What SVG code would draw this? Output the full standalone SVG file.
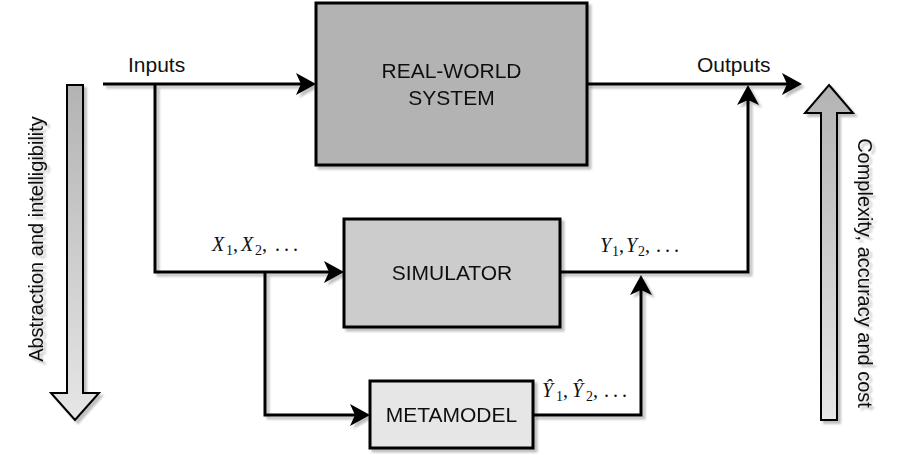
<svg xmlns="http://www.w3.org/2000/svg" width="897" height="455" viewBox="0 0 897 455">
  <defs>
    <!-- soft drop shadow used by boxes, wires and the side arrows -->
    <filter id="shadow" x="-10%" y="-10%" width="130%" height="130%">
      <feGaussianBlur in="SourceAlpha" stdDeviation="0.8" result="blur"/>
      <feOffset in="blur" dx="3" dy="3" result="off"/>
      <feComponentTransfer in="off" result="soft">
        <feFuncA type="linear" slope="0.25"/>
      </feComponentTransfer>
      <feMerge>
        <feMergeNode in="soft"/>
        <feMergeNode in="SourceGraphic"/>
      </feMerge>
    </filter>
    <linearGradient id="fade" x1="0" y1="0" x2="0" y2="1">
      <stop offset="0" stop-color="#b3b3b3"/>
      <stop offset="1" stop-color="#e6e6e6"/>
    </linearGradient>
    <!-- notched arrowhead; reference point sits in the notch, tip 15px ahead -->
    <marker id="head" markerUnits="userSpaceOnUse" viewBox="0 0 20 22" refX="5" refY="11" markerWidth="20" markerHeight="22" orient="auto">
      <path d="M20,11 L0,0 L5,11 L0,22 Z" fill="#000"/>
    </marker>
    <style>
      .box { stroke: #000; stroke-width: 3; }
      .wire { fill: none; stroke: #000; stroke-width: 3; stroke-linejoin: miter; }
      .arrowed { marker-end: url(#head); }
      .big { fill: url(#fade); stroke: #000; stroke-width: 2; stroke-linejoin: miter; }
      .lbl { font-family: "Liberation Sans", Arial, Helvetica, sans-serif; font-size: 21px; fill: #111; }
      .side { font-family: "Liberation Sans", Arial, Helvetica, sans-serif; font-size: 20px; fill: #111; }
      .math { font-family: "Liberation Serif", "DejaVu Serif", serif; font-size: 20px; fill: #111; }
      .mi { font-style: italic; }
      .sub { font-size: 14px; }
    </style>
  </defs>

  <!-- side arrows -->
  <g id="abstraction-arrow" filter="url(#shadow)">
    <path class="big" d="M67,85 H83 V393 H99 L75,420 L51,393 H67 Z"/>
    <text class="side" text-anchor="middle" transform="translate(43,239) rotate(-90)">Abstraction and intelligibility</text>
  </g>
  <g id="complexity-arrow" filter="url(#shadow)">
    <path class="big" d="M829,85 L853,113 H837 V420 H821 V113 H805 Z"/>
    <text class="side" text-anchor="middle" transform="translate(858,273) rotate(90)">Complexity, accuracy and cost</text>
  </g>

  <!-- connectors -->
  <g id="connectors" filter="url(#shadow)">
    <path class="wire arrowed" d="M103,84 H301"/>
    <path class="wire arrowed" d="M155,84 V272 H329"/>
    <path class="wire arrowed" d="M265,272 V415 H355"/>
    <path class="wire arrowed" d="M533,415 H641 V290"/>
    <path class="wire arrowed" d="M560,272 H748 V100"/>
    <path class="wire arrowed" d="M587,84 H787"/>
  </g>

  <!-- nodes -->
  <g id="real-world-system" filter="url(#shadow)">
    <rect class="box" x="316" y="3" width="271" height="162" fill="#b3b3b3"/>
    <text class="lbl" x="451.5" y="78" text-anchor="middle">REAL-WORLD</text>
    <text class="lbl" x="451.5" y="105" text-anchor="middle">SYSTEM</text>
  </g>
  <g id="simulator" filter="url(#shadow)">
    <rect class="box" x="344" y="219" width="216" height="108" fill="#cccccc"/>
    <text class="lbl" x="452" y="280" text-anchor="middle">SIMULATOR</text>
  </g>
  <g id="metamodel" filter="url(#shadow)">
    <rect class="box" x="370" y="381" width="163" height="67" fill="#e6e6e6"/>
    <text class="lbl" x="451.5" y="422" text-anchor="middle">METAMODEL</text>
  </g>

  <!-- labels -->
  <g id="labels">
    <text class="lbl" x="128" y="72">Inputs</text>
    <text class="lbl" x="697" y="72">Outputs</text>
    <text class="math" y="251"><tspan class="mi" x="212">X</tspan><tspan class="sub" x="226" y="255">1</tspan><tspan x="233" y="251">,</tspan><tspan class="mi" x="241">X</tspan><tspan class="sub" x="255" y="255">2</tspan><tspan x="262" y="251">,</tspan><tspan x="275">.</tspan><tspan x="284">.</tspan><tspan x="293">.</tspan></text>
    <text class="math" y="252"><tspan class="mi" x="600">Y</tspan><tspan class="sub" x="612" y="256">1</tspan><tspan x="619" y="252">,</tspan><tspan class="mi" x="626">Y</tspan><tspan class="sub" x="638" y="256">2</tspan><tspan x="645" y="252">,</tspan><tspan x="656">.</tspan><tspan x="665">.</tspan><tspan x="674">.</tspan></text>
    <text class="math" y="397"><tspan class="mi" x="542">Ŷ</tspan><tspan class="sub" x="556" y="401">1</tspan><tspan x="563" y="397">,</tspan><tspan class="mi" x="572">Ŷ</tspan><tspan class="sub" x="586" y="401">2</tspan><tspan x="593" y="397">,</tspan><tspan x="604">.</tspan><tspan x="613">.</tspan><tspan x="622">.</tspan></text>
  </g>
</svg>
